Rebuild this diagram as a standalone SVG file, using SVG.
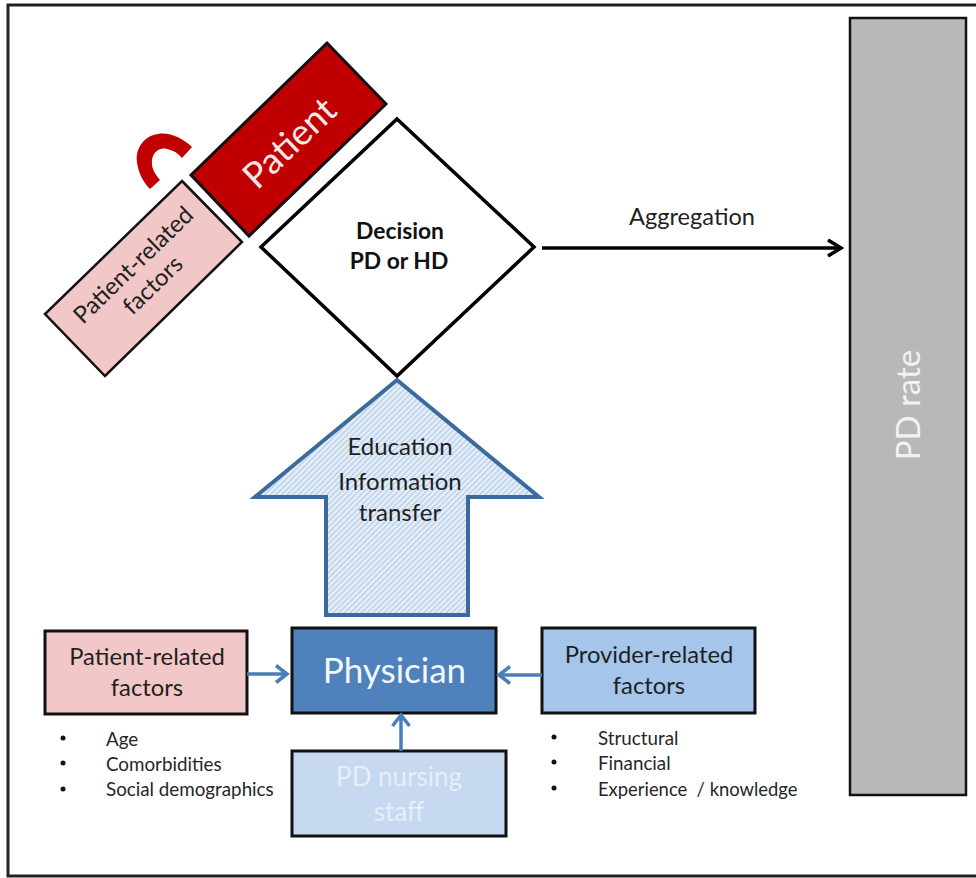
<svg xmlns="http://www.w3.org/2000/svg" width="976" height="878" viewBox="0 0 976 878">
<style>
text{font-family:"Lato","Carlito","Open Sans",sans-serif;text-anchor:middle;fill:#1f1f1f}
.b{stroke:#111;stroke-width:3;stroke-linejoin:miter}
.l{fill:#262626;font-size:18.800px;text-anchor:start}
.c{stroke:#4a7ebb;stroke-width:3.500;fill:none}
.d{fill:#111}
</style>
<defs>
<pattern id="h" width="4" height="4" patternUnits="userSpaceOnUse" patternTransform="rotate(-45)">
<rect width="4" height="4" fill="#e8f0f9"/><rect width="4" height="2" fill="#c3d6ec"/>
</pattern>
<marker id="ab" markerWidth="16" markerHeight="22" refX="13" refY="11" orient="auto" markerUnits="userSpaceOnUse"><path d="M2,2.500L13,11L2,19.500" fill="none" stroke="#4a7ebb" stroke-width="3.500"/></marker>
<marker id="ak" markerWidth="20" markerHeight="22" refX="17" refY="11" orient="auto" markerUnits="userSpaceOnUse"><path d="M3,3L16,11L3,19" fill="none" stroke="#000" stroke-width="3.500"/></marker>
</defs>
<rect width="976" height="878" fill="#fff"/>
<rect id="frame" x="8" y="5" width="990" height="871" fill="none" stroke="#222" stroke-width="3"/>
<g id="pdrate"><rect x="850" y="18" width="116" height="777" fill="#b8b8b8" class="b" style="stroke-width:2.500"/><text transform="translate(920,405) rotate(-90)" font-size="33" style="fill:#f2f2f2">PD rate</text></g>
<g id="patient"><polygon points="327,43 386,104 249,236 191,175" fill="#c00000" class="b"/><text transform="translate(298,152) rotate(-43.500)" font-size="36" style="fill:#f7e8e8">Patient</text></g>
<g id="factors-rotated"><polygon points="182,181 242,242 105,376 45,314" fill="#f2c7c7" class="b" style="stroke-width:2.500"/><text transform="rotate(-44 143 278)" font-size="23.800"><tspan x="145" y="270">Patient-related</tspan><tspan x="145" y="298">factors</tspan></text></g>
<g id="feedback-arc"><path d="M192,147C182,138 170,132 158,134C143,136 135,150 137,162C138,172 143,182 150,189L160,180C155,174 151,168 152,160C153,152 160,147 167,149C173,150 178,153 182,158Z" fill="#c00000"/></g>
<g id="decision"><polygon points="397,119 534,247 397,376 261,247" fill="#fff" stroke="#000" stroke-width="3.500"/><text font-size="22.800" font-weight="700" style="fill:#111"><tspan x="400" y="239">Decision</tspan><tspan x="399" y="269">PD or HD</tspan></text></g>
<g id="education"><polygon points="397,380 539,497 468,497 468,615 326,615 326,497 255,497" fill="url(#h)" stroke="#3c6a9c" stroke-width="4"/><text font-size="24"><tspan x="400" y="455">Education</tspan><tspan x="400" y="490">Information</tspan><tspan x="400" y="521">transfer</tspan></text></g>
<g id="patient-factors"><rect x="45" y="631" width="202" height="83" fill="#f2c7c7" class="b"/><text font-size="23.800"><tspan x="147" y="665">Patient-related</tspan><tspan x="147" y="696">factors</tspan></text></g>
<g id="physician"><rect x="292" y="628" width="204" height="85" fill="#4f81bd" class="b"/><text x="394.500" y="683" font-size="35" style="fill:#f4f7fb">Physician</text></g>
<g id="nursing"><rect x="292" y="751" width="214" height="85" fill="#c6d9f0" class="b"/><text font-size="26" style="fill:#e6eef8"><tspan x="399" y="786">PD nursing</tspan><tspan x="399" y="821">staff</tspan></text></g>
<g id="provider"><rect x="542" y="628" width="213" height="85" fill="#a6c5ea" class="b"/><text font-size="23.800"><tspan x="649" y="663">Provider-related</tspan><tspan x="649" y="694">factors</tspan></text></g>
<g id="patient-list"><circle cx="63" cy="738" r="2.500" class="d"/><circle cx="63" cy="763" r="2.500" class="d"/><circle cx="63" cy="789" r="2.500" class="d"/><text class="l" x="106" y="746">Age</text><text class="l" x="106" y="771">Comorbidities</text><text class="l" x="106" y="796">Social demographics</text></g>
<g id="provider-list"><circle cx="554" cy="737" r="2.500" class="d"/><circle cx="554" cy="762" r="2.500" class="d"/><circle cx="554" cy="788" r="2.500" class="d"/><text class="l" x="598" y="745">Structural</text><text class="l" x="598" y="770">Financial</text><text class="l" x="598" y="796" style="font-size:18.400px" xml:space="preserve">Experience  / knowledge</text></g>
<text id="aggregation" x="692" y="225" font-size="23.600">Aggregation</text>
<g id="connectors">
<line x1="542" y1="248" x2="842" y2="248" stroke="#000" stroke-width="3.500" marker-end="url(#ak)"/>
<line class="c" x1="247" y1="674" x2="287" y2="674" marker-end="url(#ab)"/>
<line class="c" x1="542" y1="675" x2="499" y2="675" marker-end="url(#ab)"/>
<line class="c" x1="401" y1="751" x2="401" y2="715" marker-end="url(#ab)"/>
</g>
</svg>
